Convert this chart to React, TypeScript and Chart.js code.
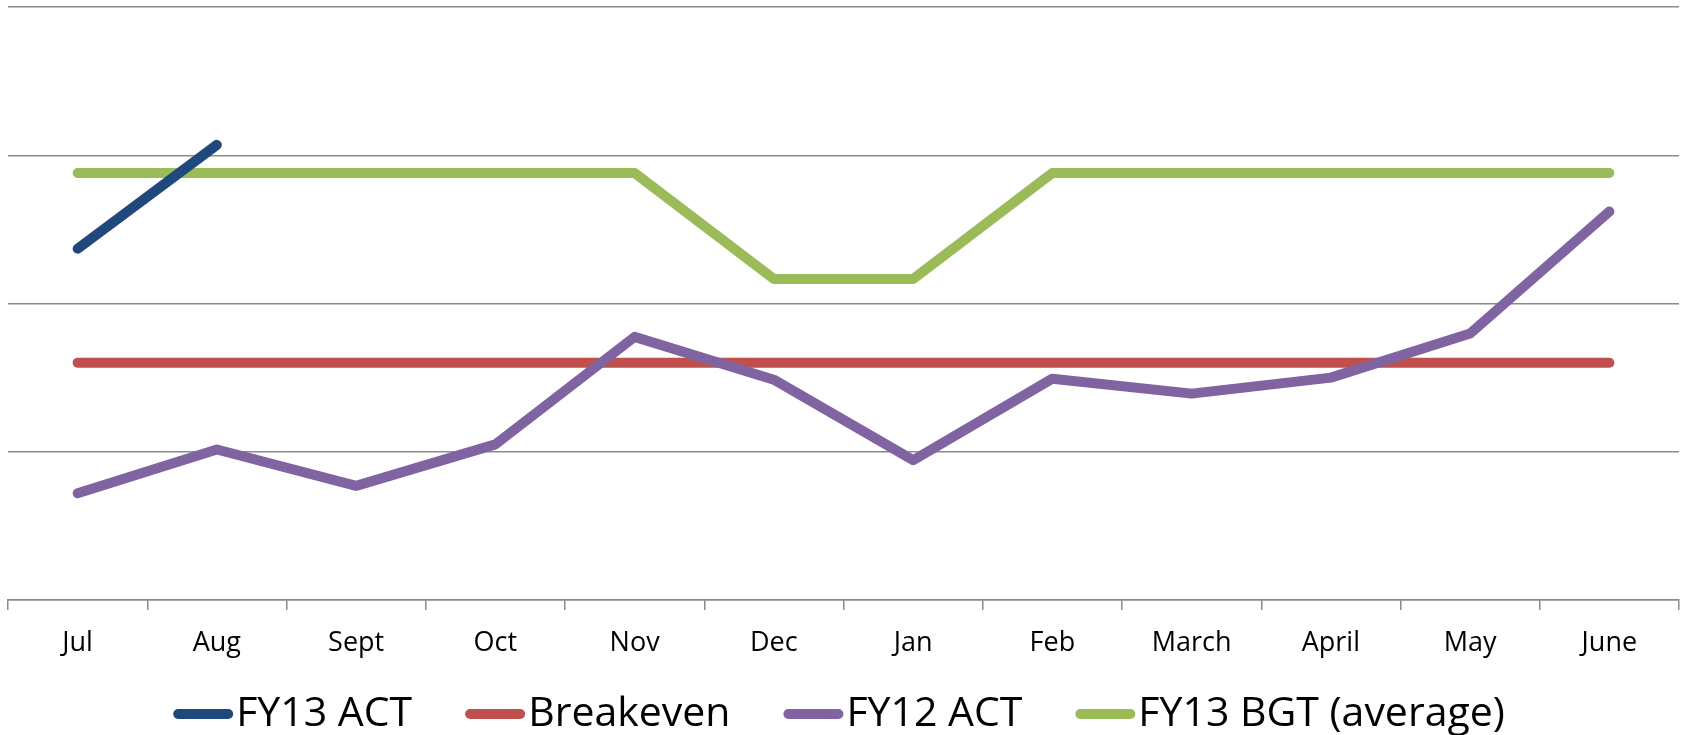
import React, { useEffect, useRef } from "react";
import { Chart, registerables } from "chart.js";

Chart.register(...registerables);

const months = ["Jul", "Aug", "Sept", "Oct", "Nov", "Dec", "Jan", "Feb", "March", "April", "May", "June"];
const fy13Act = [2.37, 3.07, null, null, null, null, null, null, null, null, null, null];
const breakeven = [1.6, 1.6, 1.6, 1.6, 1.6, 1.6, 1.6, 1.6, 1.6, 1.6, 1.6, 1.6];
const fy12Act = [0.72, 1.015, 0.77, 1.05, 1.775, 1.486, 0.943, 1.493, 1.392, 1.5, 1.797, 2.62];
const fy13Bgt = [2.88, 2.88, 2.88, 2.88, 2.88, 2.165, 2.165, 2.88, 2.88, 2.88, 2.88, 2.88];
const yTicks = [0, 1, 2, 3, 4];

const FONT = "'Open Sans', 'Liberation Sans', Arial, sans-serif";
const GRID = "#8a8a8a";

const LEG_FONT = 41;
const LEG_BOX_W = 60;
const LEG_BOX_H = 10;
const LEG_TEXT_GAP = 3;
const LEG_ITEM_GAP = 53;
const LEG_BASELINE_FROM_BOTTOM = 9;

const bottomLegend = {
  id: "bottomLegend",
  afterDraw(chart: any) {
    const ctx = chart.ctx as CanvasRenderingContext2D;
    ctx.save();
    ctx.font = `${LEG_FONT}px ${FONT}`;
    const items = chart.data.datasets.map((ds: any) => ({
      text: ds.label as string,
      color: ds.borderColor as string,
      w: ctx.measureText(ds.label).width,
    }));
    let total = 0;
    items.forEach((it: any, i: number) => {
      total += LEG_BOX_W + LEG_TEXT_GAP + it.w + (i < items.length - 1 ? LEG_ITEM_GAP : 0);
    });
    let x = (chart.width - total) / 2 - 2;
    const baseline = chart.height - LEG_BASELINE_FROM_BOTTOM;
    const boxCenter = baseline - 12;
    items.forEach((it: any) => {
      ctx.fillStyle = it.color;
      ctx.beginPath();
      (ctx as any).roundRect(x, boxCenter - LEG_BOX_H / 2, LEG_BOX_W, LEG_BOX_H, LEG_BOX_H / 2);
      ctx.fill();
      x += LEG_BOX_W + LEG_TEXT_GAP;
      ctx.fillStyle = "#000";
      ctx.textAlign = "left";
      ctx.textBaseline = "alphabetic";
      ctx.fillText(it.text, x, baseline);
      x += it.w + LEG_ITEM_GAP;
    });
    ctx.restore();
  },
};

export default function App() {
  const ref = useRef<HTMLCanvasElement | null>(null);

  useEffect(() => {
    document.body.style.margin = "0";
    document.body.style.overflow = "hidden";
    if (!ref.current) return;
    const mk = (label: string, data: (number | null)[], color: string, order: number) => ({
      label,
      data,
      borderColor: color,
      backgroundColor: color,
      borderWidth: 10,
      borderCapStyle: "round" as const,
      borderJoinStyle: "round" as const,
      pointRadius: 0,
      pointHoverRadius: 0,
      tension: 0,
      spanGaps: false,
      order,
    });
    const chart = new Chart(ref.current, {
      type: "line",
      data: {
        labels: months,
        datasets: [
          mk("FY13 ACT", fy13Act, "#1F497D", 0),
          mk("Breakeven", breakeven, "#C0504D", 2),
          mk("FY12 ACT", fy12Act, "#8064A2", 1),
          mk("FY13 BGT (average)", fy13Bgt, "#9BBB59", 3),
        ],
      },
      plugins: [bottomLegend],
      options: {
        animation: false,
        responsive: false,
        maintainAspectRatio: false,
        layout: { padding: { left: 8, right: 3, top: 7, bottom: 70 } },
        plugins: {
          tooltip: { enabled: false },
          legend: { display: false },
        },
        scales: {
          x: {
            offset: true,
            grid: {
              offset: true,
              drawOnChartArea: false,
              drawTicks: true,
              tickLength: 10,
              color: GRID,
              lineWidth: 1.5,
            },
            border: { display: true, color: GRID, width: 1.5 },
            ticks: {
              color: "#000",
              font: { family: FONT, size: 27 },
              padding: 17,
              maxRotation: 0,
              autoSkip: false,
            },
            afterFit: (s: any) => {
              s.height = 65;
            },
          },
          y: {
            min: yTicks[0],
            max: yTicks[yTicks.length - 1],
            afterBuildTicks: (s: any) => {
              s.ticks = yTicks.map((v) => ({ value: v }));
            },
            grid: { color: GRID, lineWidth: 1.5, drawTicks: false },
            border: { display: false },
            ticks: { display: false },
          },
        },
      },
    });
    return () => chart.destroy();
  }, []);

  return (
    <div style={{ width: 1682, height: 735 }}>
      <canvas ref={ref} width={1682} height={735} style={{ display: "block", width: 1682, height: 735 }} />
    </div>
  );
}
